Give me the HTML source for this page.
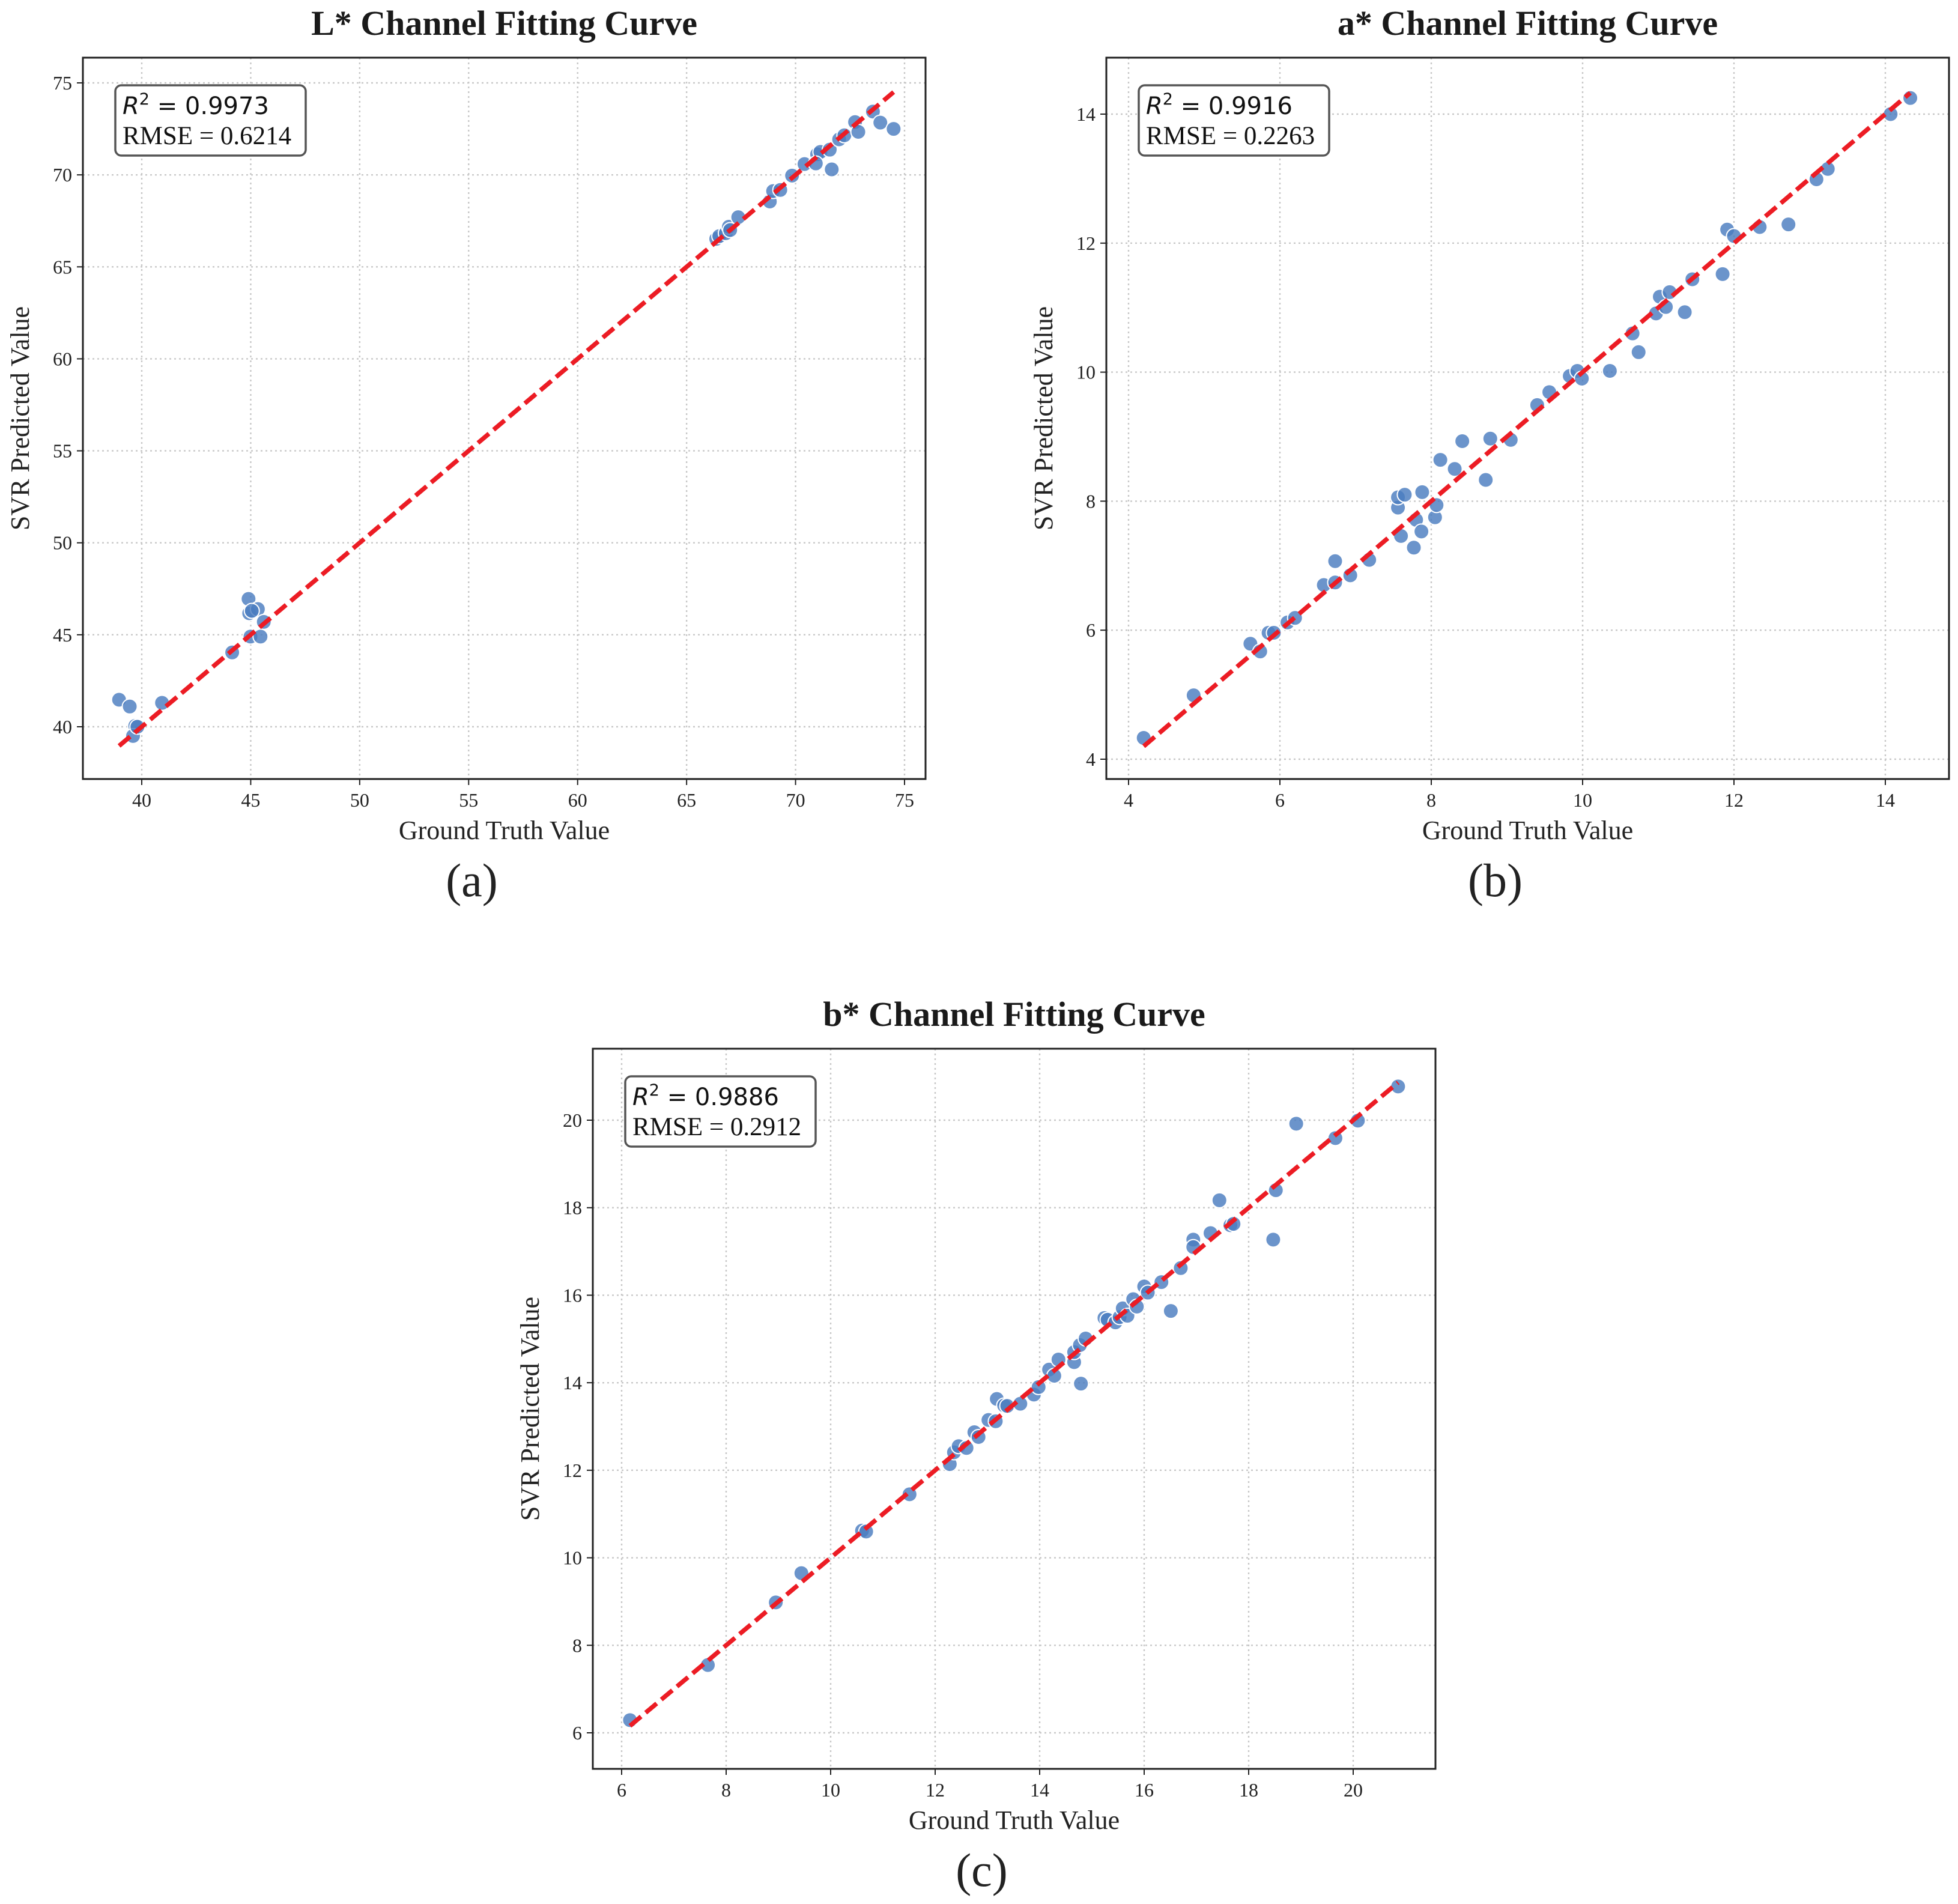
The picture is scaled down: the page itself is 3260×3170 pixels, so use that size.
<!DOCTYPE html>
<html><head><meta charset="utf-8">
<style>
html,body{margin:0;padding:0;background:#fff;}
svg{display:block;}
</style></head>
<body>
<svg id="fig" xmlns="http://www.w3.org/2000/svg" width="3260" height="3170" viewBox="0 0 3260 3170">
<rect width="3260" height="3170" fill="#fff"/>
</svg>
<script>
// Panel (a) L* data
const lTruth = [38.96,39.45,39.7,39.6,39.8,40.93,44.15,44.9,44.93,45.33,44.99,45.45,45.6,45.05,66.36,66.5,66.8,66.94,67.0,67.37,68.82,68.97,69.3,69.84,70.41,70.99,71.14,71.57,71.66,72.0,72.24,72.73,72.88,73.55,73.89,74.5,70.93];
const lPred  = [41.47,41.1,40.05,39.5,40.0,41.3,44.04,46.95,46.17,46.4,44.9,44.9,45.7,46.3,66.52,66.67,66.83,67.18,67.0,67.7,68.55,69.12,69.18,69.96,70.59,71.12,71.25,71.37,70.3,71.93,72.15,72.87,72.34,73.44,72.84,72.5,70.62];
const lXTicks = [40,45,50,55,60,65,70,75];
const lYTicks = [40,45,50,55,60,65,70,75];
// Panel (b) a* data
const aTruth = [4.2,4.86,5.61,5.74,5.85,5.92,6.1,6.2,6.58,6.73,6.73,6.93,7.18,7.56,7.56,7.65,7.6,7.77,7.8,7.87,7.88,8.05,8.07,8.12,8.31,8.41,8.72,8.78,9.05,9.4,9.56,9.83,9.93,9.99,10.36,10.66,10.74,10.97,11.02,11.1,11.15,11.35,11.45,11.85,11.91,12.0,12.34,12.72,13.09,13.24,14.07,14.33];
const aPred  = [4.33,4.99,5.79,5.67,5.96,5.96,6.12,6.19,6.7,7.07,6.74,6.85,7.09,7.9,8.06,8.1,7.46,7.28,7.71,7.53,8.14,7.75,7.94,8.64,8.5,8.93,8.33,8.97,8.95,9.49,9.69,9.94,10.02,9.9,10.02,10.6,10.31,10.91,11.17,11.01,11.24,10.93,11.44,11.52,12.21,12.11,12.25,12.29,12.99,13.15,14.0,14.25];
const aXTicks = [4,6,8,10,12,14];
const aYTicks = [4,6,8,10,12,14];
// Panel (c) b* data
const bTruth = [6.16,7.65,8.95,9.44,10.6,10.68,11.51,12.28,12.36,12.45,12.6,12.75,12.83,13.02,13.16,13.18,13.32,13.38,13.63,13.89,13.98,14.18,14.28,14.36,14.66,14.66,14.77,14.79,14.88,15.24,15.3,15.45,15.53,15.59,15.68,15.79,15.86,16.0,16.07,16.33,16.51,16.7,16.94,16.94,17.27,17.44,17.65,17.71,18.47,18.52,18.91,19.66,20.09,20.86];
const bPred  = [6.29,7.55,8.98,9.65,10.62,10.6,11.45,12.14,12.41,12.55,12.51,12.87,12.76,13.15,13.12,13.63,13.48,13.47,13.52,13.73,13.9,14.3,14.16,14.53,14.47,14.7,14.86,13.98,15.01,15.48,15.44,15.38,15.5,15.7,15.53,15.91,15.74,16.2,16.06,16.3,15.64,16.62,17.27,17.1,17.42,18.17,17.6,17.63,17.27,18.4,19.92,19.59,19.99,20.77];
const bXTicks = [6,8,10,12,14,16,18,20];
const bYTicks = [6,8,10,12,14,16,18,20];
const titles = ["L* Channel Fitting Curve","a* Channel Fitting Curve","b* Channel Fitting Curve"];
const r2Values = ["0.9973","0.9916","0.9886"];
const rmseValues = ["0.6214","0.2263","0.2912"];
const panelLetters = ["(a)","(b)","(c)"];

const NS = "http://www.w3.org/2000/svg";
const svg = document.getElementById('fig');
function mk(tag, attrs, parent){
  const e = document.createElementNS(NS, tag);
  for (const k in attrs) e.setAttribute(k, attrs[k]);
  (parent||svg).appendChild(e);
  return e;
}
const SERIF = '"Liberation Serif", "DejaVu Serif", serif';

const layouts = [
  {L:138,R:1541,T:96,B:1297, x0:40,px0:236, x1:75,px1:1506, y0:40,py0:1210, y1:75,py1:138},
  {L:1842,R:3245,T:96,B:1297, x0:4,px0:1879, x1:14,px1:3139, y0:4,py0:1264, y1:14,py1:190},
  {L:987,R:2390,T:1746,B:2945, x0:6,px0:1035, x1:20,px1:2253, y0:6,py0:2885, y1:20,py1:1865}
];
const panels = [
  {truth:lTruth, pred:lPred, xt:lXTicks, yt:lYTicks},
  {truth:aTruth, pred:aPred, xt:aXTicks, yt:aYTicks},
  {truth:bTruth, pred:bPred, xt:bXTicks, yt:bYTicks}
];
const names = ["l-channel","a-channel","b-channel"];

panels.forEach((p, i) => {
  const lay = layouts[i];
  const g = mk('g', {});
  
  
  const xs = v => lay.px0 + (v - lay.x0) * (lay.px1 - lay.px0) / (lay.x1 - lay.x0);
  const ys = v => lay.py0 + (v - lay.y0) * (lay.py1 - lay.py0) / (lay.y1 - lay.y0);
  const cx = (lay.L + lay.R) / 2;

  const t = mk('text', {x:cx, y:lay.T-38, 'text-anchor':'middle', 'font-family':SERIF, 'font-size':58, 'font-weight':'bold', fill:'#1a1a1a'}, g);
  t.textContent = titles[i];
  
  

  p.xt.forEach(v => {
    const x = xs(v);
    const gl = mk('line', {x1:x, x2:x, y1:lay.T, y2:lay.B, stroke:'#c8c8c8', 'stroke-width':2.4, 'stroke-dasharray':'3,5'}, g);
    
    
    mk('line', {x1:x, x2:x, y1:lay.B, y2:lay.B+10, stroke:'#222', 'stroke-width':2}, g);
    const tl = mk('text', {x:x, y:lay.B+46, 'text-anchor':'middle', 'font-family':SERIF, 'font-size':32, fill:'#222'}, g);
    tl.textContent = v;
    
    
  });
  p.yt.forEach(v => {
    const y = ys(v);
    const gl = mk('line', {x1:lay.L, x2:lay.R, y1:y, y2:y, stroke:'#c8c8c8', 'stroke-width':2.4, 'stroke-dasharray':'3,5'}, g);
    
    
    mk('line', {x1:lay.L-10, x2:lay.L, y1:y, y2:y, stroke:'#222', 'stroke-width':2}, g);
    const tl = mk('text', {x:lay.L-18, y:y+11, 'text-anchor':'end', 'font-family':SERIF, 'font-size':32, fill:'#222'}, g);
    tl.textContent = v;
    
    
  });

  p.truth.forEach((v, k) => {
    const c = mk('circle', {cx:xs(v), cy:ys(p.pred[k]), r:12.5, fill:'#4a7cc0', 'fill-opacity':0.82, stroke:'#fff', 'stroke-width':2}, g);
    
    
  });

  const mn = Math.min(...p.truth), mx = Math.max(...p.truth);
  const fl = mk('line', {x1:xs(mn), y1:ys(mn), x2:xs(mx), y2:ys(mx), stroke:'#ec1c24', 'stroke-width':7.5, 'stroke-dasharray':'24,10'}, g);
  
  

  const fr = mk('rect', {x:lay.L, y:lay.T, width:lay.R-lay.L, height:lay.B-lay.T, fill:'none', stroke:'#222', 'stroke-width':3}, g);
  
  

  const bx = lay.L + 54, by = lay.T + 46;
  const ab = mk('rect', {x:bx, y:by, width:317, height:117, rx:10, fill:'#fff', stroke:'#555', 'stroke-width':3.5}, g);
  
  
  const r2 = mk('text', {x:bx+12, y:by+48, 'font-family':'"DejaVu Sans", sans-serif', 'font-size':40, fill:'#111'}, g);
  
  
  const ri = mk('tspan', {'font-style':'italic'}, r2); ri.textContent = 'R';
  const rs = mk('tspan', {'font-size':27, dy:-16}, r2); rs.textContent = '2';
  const rv = mk('tspan', {dy:16}, r2); rv.textContent = ' = ' + r2Values[i];
  const rm = mk('text', {x:bx+12, y:by+98, 'font-family':SERIF, 'font-size':43, fill:'#111'}, g);
  rm.textContent = 'RMSE = ' + rmseValues[i];
  
  

  const xl = mk('text', {x:cx, y:lay.B+100, 'text-anchor':'middle', 'font-family':SERIF, 'font-size':44, fill:'#222'}, g);
  xl.textContent = 'Ground Truth Value';
  
  
  const yc = (lay.T + lay.B) / 2, yx = lay.L - 90;
  const yl = mk('text', {x:yx, y:yc, 'text-anchor':'middle', 'font-family':SERIF, 'font-size':44, fill:'#222', transform:'rotate(-90 '+yx+' '+yc+')'}, g);
  yl.textContent = 'SVR Predicted Value';
  
  

  const pl = mk('text', {x:cx-54, y:lay.B+195, 'text-anchor':'middle', 'font-family':SERIF, 'font-size':78, fill:'#222'}, g);
  pl.textContent = panelLetters[i];
  
  
});
</script>
</body></html>
